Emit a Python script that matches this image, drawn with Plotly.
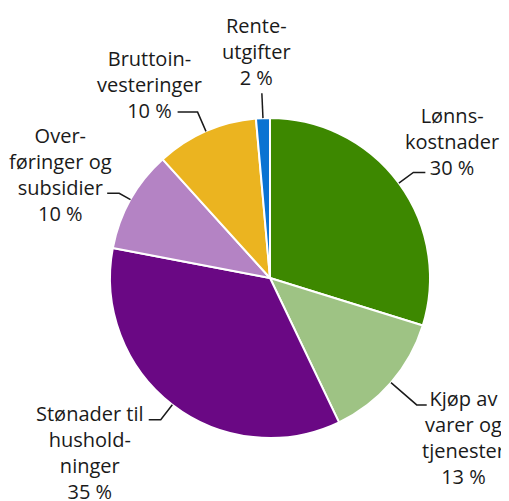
"""Kakediagram: fordeling av utgifter"""
import math
import plotly.graph_objects as go

# data
labels = ['Lønns-<br>kostnader', 'Kjøp av<br>varer og<br>tjenester', 'Stønader til<br>hushold-<br>ninger',
          'Over-<br>føringer og<br>subsidier', 'Bruttoin-<br>vesteringer', 'Rente-<br>utgifter']
values = [29.8, 13.1, 35.1, 10.3, 10.3, 1.4]
pct_text = ['30 %', '13 %', '35 %', '10 %', '10 %', '2 %']
colors = ['#3d8800', '#9ec384', '#6a0884', '#b483c4', '#ebb420', '#0a73d2']

# the page body has an 8 px margin, so the figure is drawn 8 px in from the corner
OFF = 8
W, H = 509 - OFF, 501 - OFF
CX, CY, R = 270, 278, 160

# leader line styling: radial length, horizontal length (+right / -left), label offset from line end
leader_len = [18, 34, 19, 13, 21, 25]
horiz_len = [12, 10, -12, -12, -20, 0]
label_off = [(27, -31), (37, 33), (-59, 33), (-47, -19), (-28, -28), (-5, -42)]


def px(x, y):
    """window pixels -> paper coords"""
    return (x - OFF) / W, 1 - (y - OFF) / H


x_lo, y_hi = px(CX - R, CY - R)
x_hi, y_lo = px(CX + R, CY + R)

fig = go.Figure(go.Pie(
    values=values,
    labels=[l.replace('<br>', ' ') for l in labels],
    marker=dict(colors=colors, line=dict(color='white', width=2)),
    sort=False,
    direction='clockwise',
    rotation=0,
    textinfo='none',
    hoverinfo='label+percent',
    domain=dict(x=[x_lo, x_hi], y=[y_lo, y_hi]),
))

total = sum(values)
cum = 0
for i, v in enumerate(values):
    mid = (cum + v / 2) / total * 2 * math.pi
    cum += v
    sx, sy = math.sin(mid), -math.cos(mid)
    x0, y0 = CX + R * sx, CY + R * sy
    x1, y1 = x0 + leader_len[i] * sx, y0 + leader_len[i] * sy
    x2, y2 = x1 + horiz_len[i], y1
    pts = [px(x0, y0), px(x1, y1), px(x2, y2)]
    path = 'M {} {} L {} {} L {} {}'.format(*[c for p in pts for c in p])
    fig.add_shape(type='path', path=path, xref='paper', yref='paper',
                  line=dict(color='#1a1a1a', width=1.5))
    lx, ly = px(x2 + label_off[i][0], y2 + label_off[i][1])
    fig.add_annotation(x=lx, y=ly, xref='paper', yref='paper',
                       text=labels[i] + '<br>' + pct_text[i], showarrow=False,
                       xanchor='center', yanchor='middle', align='center',
                       font=dict(family='Open Sans', size=20, color='#1a1a1a'))

fig.update_layout(
    width=W, height=H,
    margin=dict(l=0, r=0, t=0, b=0),
    showlegend=False,
    paper_bgcolor='white',
    plot_bgcolor='white',
)
fig.write_html('out.html')
